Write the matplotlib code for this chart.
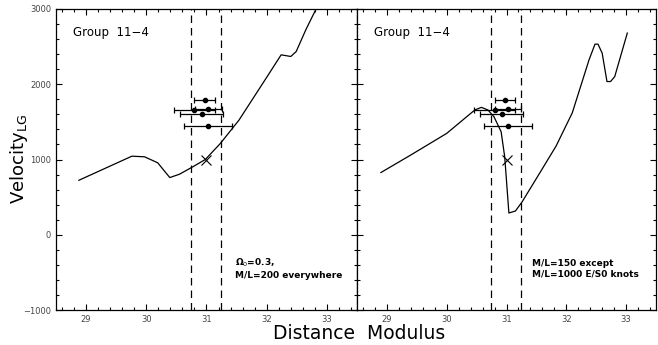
import matplotlib
matplotlib.use("Agg")
import matplotlib.pyplot as plt
from matplotlib.ticker import MultipleLocator
import numpy as np

# Model curves
left_x = [28.88, 29.76, 29.97, 30.19, 30.39, 30.55, 30.77, 30.98, 31.23, 31.54, 31.99, 32.24, 32.40, 32.49, 32.65, 32.82, 33.0]
left_y = [724, 1044, 1036, 956, 760, 804, 902, 1000, 1213, 1524, 2080, 2391, 2369, 2435, 2724, 3000, 3350]
right_x = [28.90, 29.40, 30.00, 30.47, 30.58, 30.69, 30.79, 30.91, 30.97, 31.04, 31.15, 31.26, 31.55, 31.83, 32.10, 32.38, 32.48, 32.53, 32.60, 32.68, 32.74, 32.81, 33.02]
right_y = [827, 1060, 1347, 1658, 1693, 1658, 1569, 1369, 1036, 289, 316, 436, 813, 1180, 1620, 2324, 2533, 2533, 2413, 2036, 2036, 2102, 2680]

# Observed distance estimates
obs_x = [30.97, 30.80, 31.03, 30.92, 31.03]
obs_y = [1785, 1655, 1665, 1605, 1450]
obs_xerr = [0.17, 0.34, 0.22, 0.36, 0.40]

# Group position
grp_x = [31.0]
grp_y = [1000]

dash_lines = [30.74, 31.24]
xticks = [29, 30, 31, 32, 33]
yticks = [-1000, 0, 1000, 2000, 3000]

fig = plt.figure(figsize=(6.58, 3.45), dpi=100)
ax1 = fig.add_axes([56/658, 1-310/345, 301/658, 301/345])
ax2 = fig.add_axes([357/658, 1-310/345, 299/658, 301/345])

panels = [
    (ax1, left_x, left_y, "\u03a9$_0$=0.3,\nM/L=200 everywhere", 31.47),
    (ax2, right_x, right_y, "M/L=150 except\nM/L=1000 E/S0 knots", 31.42),
]
for ax, cx, cy, note, nx in panels:
    ax.plot(cx, cy, color='black', lw=0.9)
    for d in dash_lines:
        ax.axvline(d, color='black', lw=0.9, ls=(0, (6, 4)))
    ax.errorbar(obs_x, obs_y, xerr=obs_xerr, fmt='o', color='black', ms=3,
                elinewidth=0.9, capsize=2.5, capthick=0.9)
    ax.plot(grp_x, grp_y, marker='x', color='black', ms=7, mew=0.8, ls='none')
    ax.set_xlim(28.5, 33.5)
    ax.set_ylim(-1000, 3000)
    ax.set_xticks(xticks)
    ax.set_yticks(yticks)
    ax.xaxis.set_minor_locator(MultipleLocator(0.2))
    ax.yaxis.set_minor_locator(MultipleLocator(200))
    ax.tick_params(which='both', direction='in', top=True, right=True, labelsize=6,
                   labelcolor='#444444', width=0.8)
    ax.tick_params(which='major', length=4)
    ax.tick_params(which='minor', length=2)
    for s in ax.spines.values():
        s.set_linewidth(0.9)
    ax.text(28.79, 2690, "Group  11\u22124", fontsize=8.5, ha='left', va='center')
    ax.text(nx, -450, note, fontsize=6.5, fontweight='bold', ha='left', va='center',
            linespacing=1.3)

ax2.tick_params(labelleft=False)
fig.text(8/658, 1-159/345, r"Velocity$_{\mathregular{LG}}$", fontsize=13,
         rotation=90, ha='left', va='center')
fig.text(359/658, 2/345, "Distance  Modulus", fontsize=13.5, ha='center', va='bottom')

fig.savefig("out.png", dpi=100)
